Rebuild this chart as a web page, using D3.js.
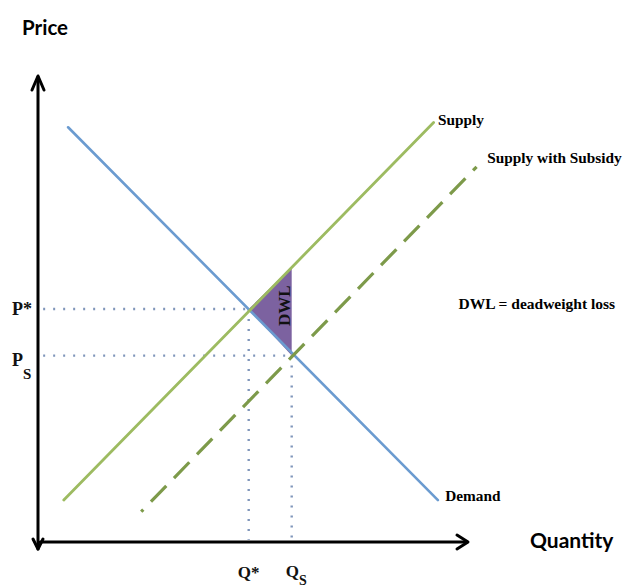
<!DOCTYPE html>
<html>
<head>
<meta charset="utf-8">
<script src="https://cdn.jsdelivr.net/npm/d3@7"></script>
<style>
  html, body { margin: 0; padding: 0; background: #fff; }
  svg { display: block; }
</style>
</head>
<body>
<script>
// ---- data (quantity, price) in chart units ----
const demand  = [[0.7, 8.9], [9.3, 0.9]];
const supply  = [[0.6, 0.9], [9.2, 9.0]];
const subsidy = [[2.4, 0.65], [10.2, 8.05]];
const qStar = 4.9, pStar = 5.0;
const qS = 5.9, pS = 4.0;
const dwl = [[4.9, 5.0], [5.9, 5.9], [5.9, 4.0]];
const curveLabels = [
  {text: "Supply", at: [9.3, 8.95]},
  {text: "Supply with Subsidy", at: [10.45, 8.13]},
  {text: "Demand", at: [9.47, 0.88]}
];
const noteLabel = {text: "DWL = deadweight loss", at: [9.78, 5.0]};

const W = 627, H = 587;
const svg = d3.select("body").append("svg").attr("width", W).attr("height", H);

const x = d3.scaleLinear().domain([0, 10]).range([38, 468]);
const y = d3.scaleLinear().domain([0, 10]).range([542, 76]);
const line = d3.line().x(d => x(d[0])).y(d => y(d[1]));

const serif = "'Liberation Serif', 'Times New Roman', serif";
const sans = "Lato, 'Open Sans', sans-serif";

// dotted guides
const dotStyle = sel => sel.attr("stroke", "#7f95ba").attr("stroke-width", 2.4)
  .attr("stroke-dasharray", "2,8").attr("stroke-linecap", "butt").attr("fill", "none");
svg.append("path").attr("d", line([[0.12, pStar], [qStar, pStar]])).call(dotStyle);
svg.append("path").attr("d", line([[0.12, pS], [qS, pS]])).call(dotStyle);
svg.append("path").attr("d", line([[qStar, pStar], [qStar, 0.05]])).call(dotStyle);
svg.append("path").attr("d", line([[qS, pS], [qS, 0.05]])).call(dotStyle);

// DWL triangle
svg.append("path").attr("d", line(dwl) + "Z").attr("fill", "#7c62a0");

// curves
svg.append("path").attr("d", line(demand)).attr("stroke", "#6b9bd0")
  .attr("stroke-width", 2.6).attr("fill", "none").attr("stroke-linecap", "round");
svg.append("path").attr("d", line(supply)).attr("stroke", "#9dbb61")
  .attr("stroke-width", 2.8).attr("fill", "none").attr("stroke-linecap", "round");
svg.append("path").attr("d", line(subsidy)).attr("stroke", "#7d9a4a")
  .attr("stroke-width", 3.2).attr("fill", "none").attr("stroke-dasharray", "22,11")
  .attr("stroke-dashoffset", 19).attr("stroke-linecap", "butt");

// axes
const ax = svg.append("g").attr("stroke", "#000").attr("fill", "none")
  .attr("stroke-width", 3).attr("stroke-linecap", "round").attr("stroke-linejoin", "round");
ax.append("line").attr("x1", x(0)).attr("y1", y(-0.15)).attr("x2", x(0)).attr("y2", y(10) + 1);
ax.append("line").attr("x1", x(0.05)).attr("y1", y(0)).attr("x2", x(10) - 1).attr("y2", y(0));
ax.append("path").attr("d", `M${x(0)-6},${y(10)+14} L${x(0)},${y(10)} L${x(0)+6},${y(10)+14}`);
ax.append("path").attr("d", `M${x(10)-11},${y(0)-7} L${x(10)},${y(0)} L${x(10)-11},${y(0)+7}`);
ax.append("path").attr("d", `M${x(0)-5},${y(0)-3} L${x(0)},${y(0)+7} L${x(0)+5},${y(0)-3}`);

// axis titles
svg.append("text").attr("x", 22).attr("y", 35).text("Price")
  .attr("font-family", sans).attr("font-weight", 700).attr("font-size", 20.5);
svg.append("text").attr("x", 530).attr("y", 548).text("Quantity")
  .attr("font-family", sans).attr("font-weight", 700).attr("font-size", 21);

// curve labels
curveLabels.forEach(l => {
  svg.append("text").attr("x", x(l.at[0])).attr("y", y(l.at[1]))
    .text(l.text).attr("font-family", serif).attr("font-weight", 700).attr("font-size", 15.3);
});
svg.append("text").attr("x", x(noteLabel.at[0])).attr("y", y(noteLabel.at[1]))
  .text(noteLabel.text).attr("font-family", serif).attr("font-weight", 700).attr("font-size", 15.5);

// price labels
const pLab = svg.append("g").attr("font-family", serif).attr("font-weight", 700).attr("fill", "#111");
pLab.append("text").attr("x", 12).attr("y", y(pStar) + 6).attr("font-size", 18).text("P*");
const ps = pLab.append("text").attr("x", 12).attr("y", y(pS) + 10).attr("font-size", 18);
ps.append("tspan").text("P");
ps.append("tspan").attr("dy", 13).attr("font-size", 15).text("S");

// quantity labels
const qLab = svg.append("g").attr("font-family", serif).attr("font-weight", 700).attr("fill", "#111");
qLab.append("text").attr("x", x(qStar)).attr("y", 578).attr("text-anchor", "middle")
  .attr("font-size", 17).text("Q*");
const qs = qLab.append("text").attr("x", x(qS) - 6).attr("y", 577).attr("font-size", 17);
qs.append("tspan").text("Q");
qs.append("tspan").attr("dy", 8).attr("font-size", 14).text("S");

// DWL rotated label
svg.append("text")
  .attr("transform", `translate(${x(qS) - 2},${y(5.07)}) rotate(-90)`)
  .attr("text-anchor", "middle").attr("font-family", serif).attr("font-weight", 700)
  .attr("font-size", 17).attr("fill", "#111").text("DWL");
</script>
</body>
</html>
